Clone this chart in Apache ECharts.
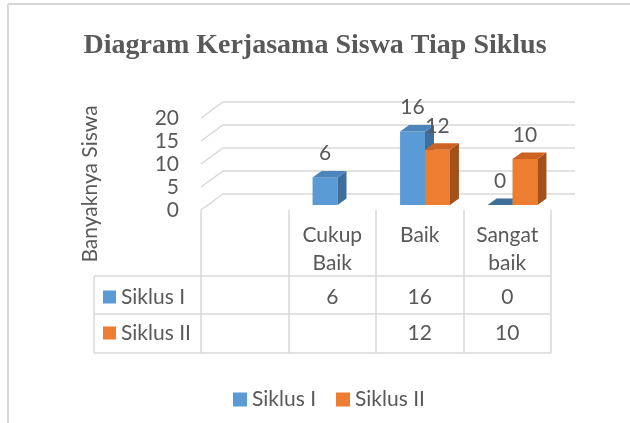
<!DOCTYPE html>
<html>
<head>
<meta charset="utf-8">
<script src="https://cdn.jsdelivr.net/npm/echarts@6/dist/echarts.min.js"></script>
<style>
html, body { margin: 0; padding: 0; background: #fff; }
#chart { width: 630px; height: 423px; }
</style>
</head>
<body>
<div id="chart"></div>
<script>
// data
var categories = ['', 'Cukup\nBaik', 'Baik', 'Sangat\nbaik'];
var seriesNames = ['Siklus I', 'Siklus II'];
var siklus1 = [null, 6, 16, 0];
var siklus2 = [null, null, 12, 10];
var yTicks = [0, 5, 10, 15, 20];

var font = 'Lato';
var fs = 21;
var textColor = '#595959';
var lineColor = '#d9d9d9';
var colors = [
    { front: '#5b9bd5', top: '#4d84bc', side: '#3d6e9c' },
    { front: '#ed7d31', top: '#cc6322', side: '#a3501b' }
];
// depth of the floor, and where the bars sit in it
var depth = [22, -16];
var barShift = [7, -5];
var barDepth = [9, -6.5];

var chart = echarts.init(document.getElementById('chart'));

function bars(values, s) {
    var data = [];
    values.forEach(function (v, i) {
        if (v !== null) data.push([i, v]);
    });
    return {
        name: seriesNames[s],
        type: 'custom',
        itemStyle: { color: colors[s].front },
        z: 3 + s,
        data: data,
        renderItem: function (params, api) {
            var idx = api.value(0), v = api.value(1);
            var c = api.coord([idx, 0]);
            var catW = api.size([1, 0])[0];
            var unit = api.size([0, 1])[1];
            var barW = catW * 0.285;
            var x0 = c[0] + barShift[0] - catW * 0.305 + s * barW;
            var yb = c[1] + barShift[1];
            var yt = yb - v * unit;
            var col = colors[s];
            var ch = [];
            if (v > 0) {
                ch.push({ type: 'rect', shape: { x: x0, y: yt, width: barW, height: v * unit },
                    style: { fill: col.front } });
                ch.push({ type: 'polygon', shape: { points: [
                    [x0 + barW, yt], [x0 + barW + barDepth[0], yt + barDepth[1]],
                    [x0 + barW + barDepth[0], yb + barDepth[1]], [x0 + barW, yb]] },
                    style: { fill: col.side } });
            }
            ch.push({ type: 'polygon', shape: { points: [
                [x0, yt], [x0 + barW, yt], [x0 + barW + barDepth[0], yt + barDepth[1]],
                [x0 + barDepth[0], yt + barDepth[1]]] },
                style: { fill: v > 0 ? col.top : col.side } });
            ch.push({ type: 'text', x: x0 + barW / 2, y: yt - 24,
                style: { text: String(v), textAlign: 'center', textVerticalAlign: 'middle',
                    fill: textColor, fontSize: fs, fontFamily: font } });
            return { type: 'group', children: ch };
        }
    };
}

var option = {
    backgroundColor: '#fff',
    animation: false,
    title: {
        text: 'Diagram Kerjasama Siswa Tiap Siklus',
        left: 'center',
        top: 27,
        textStyle: { fontFamily: 'Liberation Serif', fontWeight: 'bold', fontSize: 28, color: textColor }
    },
    legend: {
        data: seriesNames,
        left: 228,
        top: 384,
        icon: 'rect',
        itemWidth: 14,
        itemHeight: 14,
        itemGap: 20,
        itemTextGap: 5,
        textStyle: { fontFamily: font, fontSize: fs, color: textColor }
    },
    grid: { left: 201, right: 79, top: 118, bottom: 213 },
    xAxis: {
        type: 'category',
        data: categories,
        axisLine: { show: false },
        axisTick: { show: true, length: 143, lineStyle: { color: lineColor, width: 1.5 } },
        axisLabel: { interval: 0, margin: 11, lineHeight: 28, fontFamily: font, fontSize: fs, color: textColor }
    },
    yAxis: {
        type: 'value',
        min: 0,
        max: 20,
        interval: 5,
        axisLine: { show: false },
        axisTick: { show: false },
        splitLine: { show: false },
        axisLabel: { margin: 22, fontFamily: font, fontSize: fs, color: textColor }
    },
    graphic: [
        { type: 'line', shape: { x1: 8, y1: 4, x2: 630, y2: 4 }, style: { stroke: lineColor, lineWidth: 2 } },
        { type: 'line', shape: { x1: 8, y1: 4, x2: 8, y2: 423 }, style: { stroke: lineColor, lineWidth: 2 } },
        { type: 'text', x: 90, y: 184, rotation: Math.PI / 2,
            style: { text: 'Banyaknya Siswa', textAlign: 'center', textVerticalAlign: 'middle',
                fill: textColor, fontSize: fs, fontFamily: font } }
    ],
    series: [
        {
            // back wall grid lines in perspective
            type: 'custom',
            z: 1,
            silent: true,
            legendHoverLink: false,
            data: yTicks.map(function (t) { return [0, t]; }),
            renderItem: function (params, api) {
                var p = api.coord([0, api.value(1)]);
                var catW = api.size([1, 0])[0];
                var xL = p[0] - catW / 2;
                var xR = api.coord([categories.length - 1, 0])[0] + catW / 2;
                return { type: 'polyline', shape: { points: [
                    [xL, p[1]], [xL + depth[0], p[1] + depth[1]], [xR + depth[0] + 2, p[1] + depth[1]]] },
                    style: { stroke: lineColor, lineWidth: 1.5, fill: null } };
            }
        },
        {
            // data table under the axis
            type: 'custom',
            z: 2,
            silent: true,
            data: categories.map(function (c, i) { return [i, 0]; }),
            renderItem: function (params, api) {
                var i = api.value(0);
                var c = api.coord([i, 0]);
                var catW = api.size([1, 0])[0];
                var rows = [297, 333];
                var vals = [siklus1[i], siklus2[i]];
                var ch = [];
                vals.forEach(function (v, r) {
                    if (v === null) return;
                    ch.push({ type: 'text', x: c[0], y: rows[r],
                        style: { text: String(v), textAlign: 'center', textVerticalAlign: 'middle',
                            fill: textColor, fontSize: fs, fontFamily: font } });
                });
                if (i === 0) {
                    var xL = c[0] - catW / 2;
                    var xR = xL + catW * categories.length;
                    [276, 314, 353].forEach(function (y) {
                        ch.push({ type: 'line', shape: { x1: 94, y1: y, x2: xR, y2: y },
                            style: { stroke: lineColor, lineWidth: 1.5 } });
                    });
                    ch.push({ type: 'line', shape: { x1: 94, y1: 276, x2: 94, y2: 353 },
                        style: { stroke: lineColor, lineWidth: 1.5 } });
                    seriesNames.forEach(function (n, r) {
                        ch.push({ type: 'rect', shape: { x: 103, y: rows[r] - 6.5, width: 13, height: 13 },
                            style: { fill: colors[r].front } });
                        ch.push({ type: 'text', x: 121, y: rows[r],
                            style: { text: n, textAlign: 'left', textVerticalAlign: 'middle',
                                fill: textColor, fontSize: fs, fontFamily: font } });
                    });
                }
                return { type: 'group', children: ch };
            }
        },
        bars(siklus1, 0),
        bars(siklus2, 1)
    ]
};

chart.setOption(option);
</script>
</body>
</html>
